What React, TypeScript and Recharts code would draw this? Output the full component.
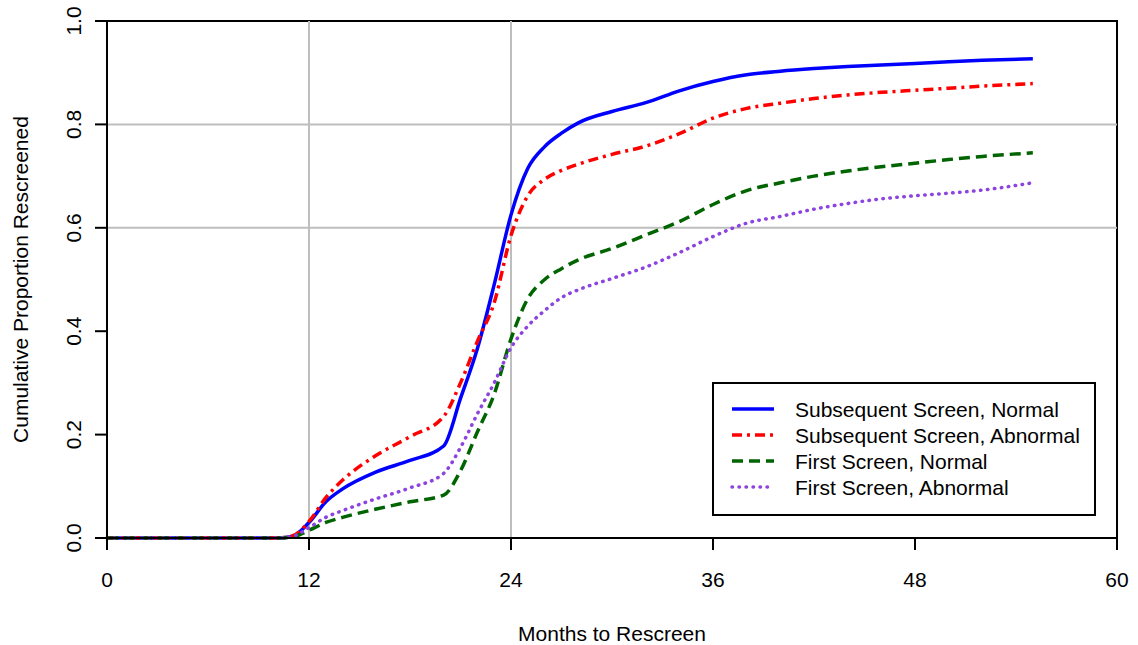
import {
  LineChart, Line, XAxis, YAxis, ReferenceLine, ReferenceArea,
} from 'recharts';

const MONTHS = [0, 10, 11, 12, 13, 14, 16, 18, 20, 21, 22, 23, 24, 25, 26, 27, 28, 30, 32, 34, 36, 38, 40, 42, 44, 46, 48, 50, 52, 55];

const SUB_NORMAL = [0, 0, 0.003, 0.03, 0.07, 0.095, 0.128, 0.15, 0.178, 0.27, 0.366, 0.49, 0.625, 0.715, 0.757, 0.783, 0.803, 0.825, 0.842, 0.865, 0.883, 0.896, 0.903, 0.908, 0.912, 0.915, 0.918, 0.921, 0.924, 0.927];
const SUB_ABNORMAL = [0, 0, 0.004, 0.032, 0.078, 0.112, 0.16, 0.196, 0.235, 0.3, 0.38, 0.455, 0.585, 0.662, 0.694, 0.711, 0.723, 0.742, 0.758, 0.782, 0.812, 0.831, 0.841, 0.85, 0.857, 0.862, 0.866, 0.87, 0.874, 0.879];
const FIRST_NORMAL = [0, 0, 0.002, 0.015, 0.03, 0.04, 0.056, 0.07, 0.083, 0.13, 0.205, 0.278, 0.385, 0.463, 0.5, 0.521, 0.538, 0.56, 0.586, 0.612, 0.645, 0.672, 0.687, 0.7, 0.71, 0.718, 0.725, 0.732, 0.738, 0.745];
const FIRST_ABNORMAL = [0, 0, 0.003, 0.02, 0.04, 0.053, 0.076, 0.097, 0.125, 0.175, 0.24, 0.3, 0.368, 0.41, 0.44, 0.465, 0.48, 0.502, 0.524, 0.552, 0.583, 0.609, 0.622, 0.636, 0.647, 0.656, 0.662, 0.667, 0.673, 0.687];

const X_TICKS = [0, 12, 24, 36, 48, 60];
const Y_TICKS = [0, 0.2, 0.4, 0.6, 0.8, 1.0];
const X_GRID = [12, 24];
const Y_GRID = [0.6, 0.8];

const SERIES = [
  { key: 'subNormal', name: 'Subsequent Screen, Normal', color: '#0000ff', dash: undefined, cap: 'butt' },
  { key: 'subAbnormal', name: 'Subsequent Screen, Abnormal', color: '#ff0000', dash: '10 5 3 5', cap: 'butt' },
  { key: 'firstNormal', name: 'First Screen, Normal', color: '#006400', dash: '11 6', cap: 'butt' },
  { key: 'firstAbnormal', name: 'First Screen, Abnormal', color: '#8c44e0', dash: '0.5 6.5', cap: 'round' },
];

const data = MONTHS.map((m, i) => ({
  month: m,
  subNormal: SUB_NORMAL[i],
  subAbnormal: SUB_ABNORMAL[i],
  firstNormal: FIRST_NORMAL[i],
  firstAbnormal: FIRST_ABNORMAL[i],
}));

const FONT = '"Liberation Sans", Arial, sans-serif';

function YTick({ x, y, payload }: any) {
  return (
    <text x={x} y={y} transform={`rotate(-90, ${x}, ${y})`} textAnchor="middle"
      fontSize={21} fontFamily={FONT} fill="#000">
      {Number(payload.value).toFixed(1)}
    </text>
  );
}

function YLabel({ viewBox }: any) {
  const x = 28;
  const y = viewBox.y + viewBox.height / 2;
  return (
    <text x={x} y={y} transform={`rotate(-90, ${x}, ${y})`} textAnchor="middle"
      fontSize={21} fontFamily={FONT} fill="#000">
      Cumulative Proportion Rescreened
    </text>
  );
}

function LegendBox() {
  return (
    <svg width={384} height={134} style={{ position: 'absolute', left: 712, top: 382 }}>
      <rect x={1} y={1} width={382} height={132} fill="#fff" stroke="#000" strokeWidth={2} />
      {SERIES.map((s, i) => {
        const cy = 27 + i * 26;
        return (
          <g key={s.key}>
            <line x1={20} x2={62} y1={cy} y2={cy} stroke={s.color} strokeWidth={3.5}
              strokeDasharray={s.dash} strokeLinecap={s.cap as any} />
            <text x={83} y={cy + 8} fontSize={21} fontFamily={FONT} fill="#000">{s.name}</text>
          </g>
        );
      })}
    </svg>
  );
}

export default function App() {
  return (
    <div style={{ position: 'absolute', left: 0, top: 0, width: 1138, height: 645, background: '#fff' }}>
      <LineChart width={1138} height={645} data={data} margin={{ top: 21, right: 21, left: 0, bottom: 0 }}>
        {X_GRID.map((g) => (
          <ReferenceLine key={`x${g}`} x={g} stroke="#bebebe" strokeWidth={2} />
        ))}
        {Y_GRID.map((g) => (
          <ReferenceLine key={`y${g}`} y={g} stroke="#bebebe" strokeWidth={2} />
        ))}
        <XAxis dataKey="month" type="number" domain={[0, 60]} ticks={X_TICKS} height={107}
          tickSize={12} tickMargin={22} stroke="#000" strokeWidth={2}
          tick={{ fontSize: 21, fill: '#000', fontFamily: FONT }}
          label={{ value: 'Months to Rescreen', position: 'insideBottom', offset: 4, fontSize: 21, fill: '#000', fontFamily: FONT }} />
        <YAxis type="number" domain={[0, 1]} ticks={Y_TICKS} width={107}
          tickSize={12} tickMargin={14} stroke="#000" strokeWidth={2}
          tick={<YTick />} label={<YLabel />} />
        {SERIES.map((s) => (
          <Line key={s.key} type="monotone" dataKey={s.key} name={s.name} stroke={s.color}
            strokeWidth={3.5} strokeDasharray={s.dash} strokeLinecap={s.cap as any}
            dot={false} activeDot={false} isAnimationActive={false} />
        ))}
        <ReferenceArea x1={0} x2={60} y1={0} y2={1} fill="none" stroke="#000" strokeWidth={2} />
      </LineChart>
      <LegendBox />
    </div>
  );
}
